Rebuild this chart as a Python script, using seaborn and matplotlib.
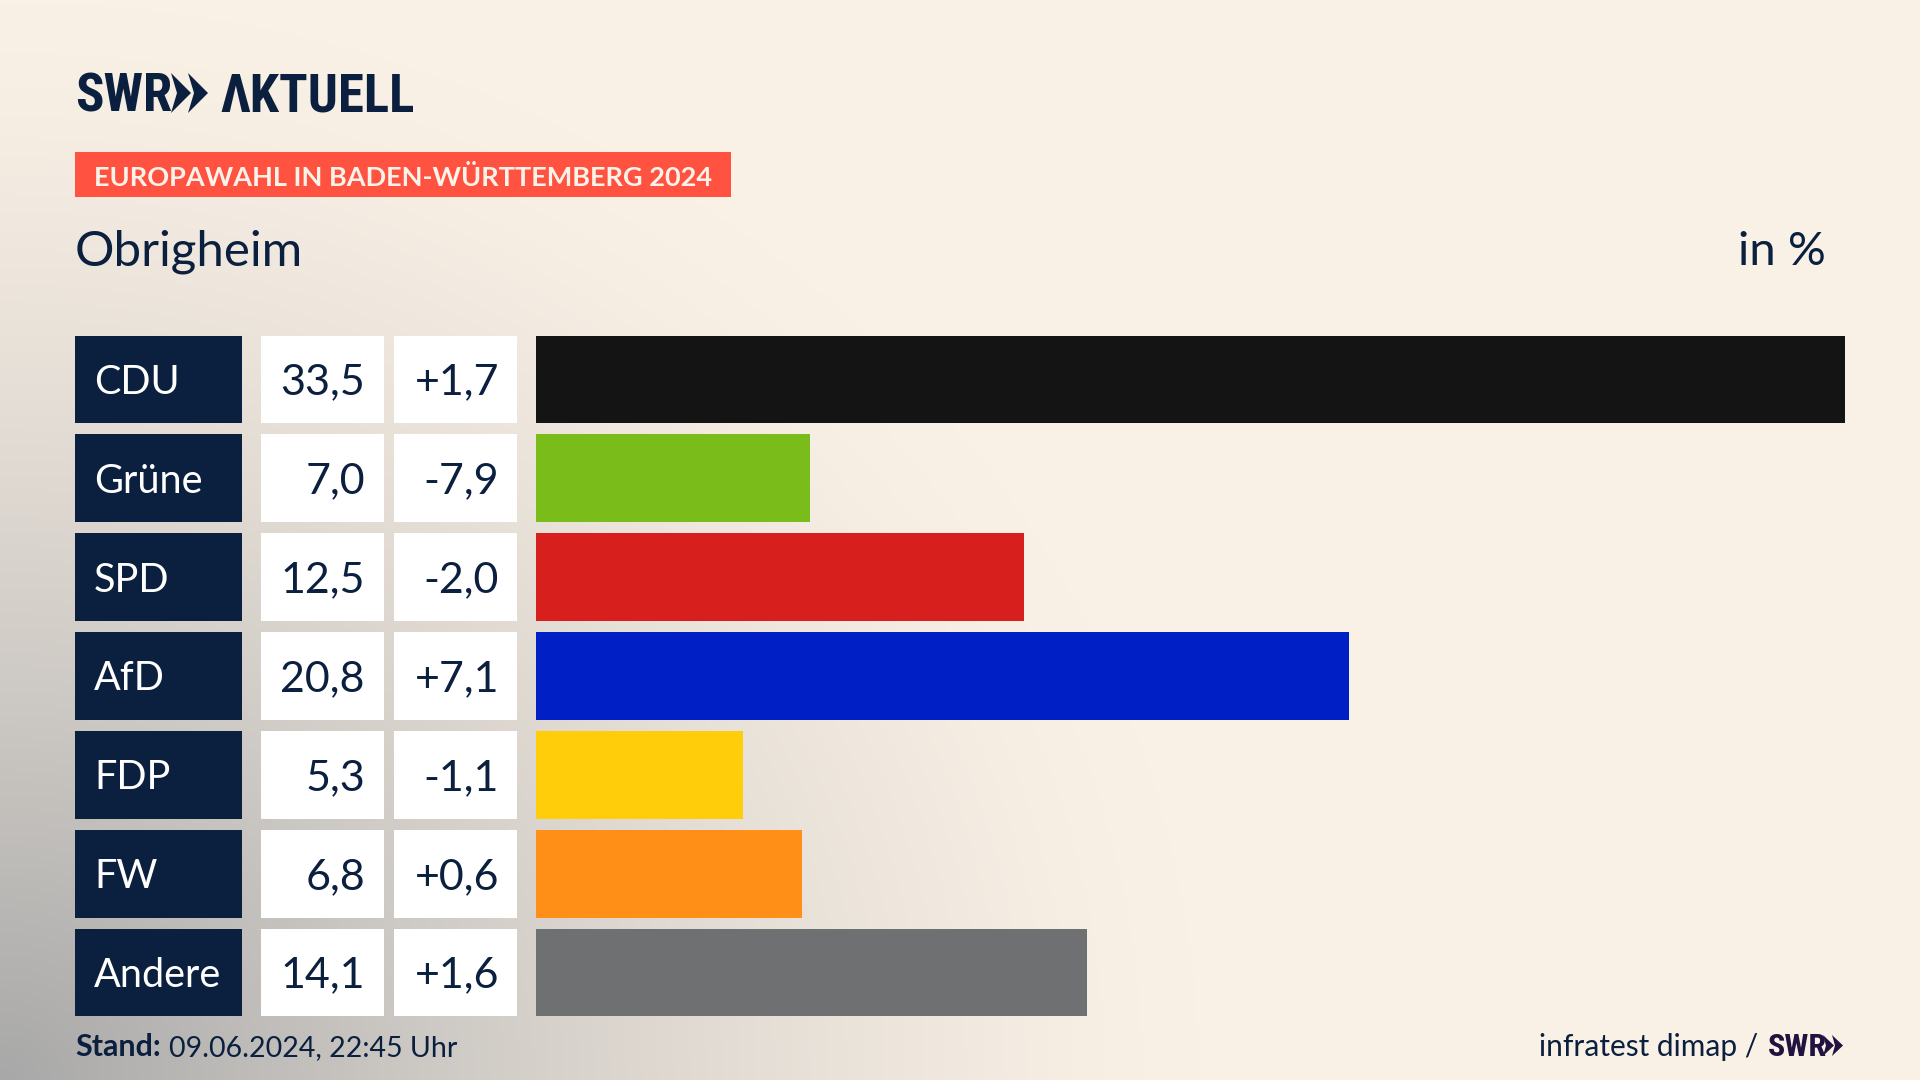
import matplotlib
matplotlib.use('Agg')
import matplotlib.pyplot as plt
from matplotlib.patches import Polygon, Rectangle
import numpy as np
import pandas as pd
import seaborn as sns

parties = ['CDU', 'Grüne', 'SPD', 'AfD', 'FDP', 'FW', 'Andere']
shares = [33.5, 7.0, 12.5, 20.8, 5.3, 6.8, 14.1]
changes = [1.7, -7.9, -2.0, 7.1, -1.1, 0.6, 1.6]
party_colors = ['#141414', '#7ABD1A', '#D71F1D', '#0020C6', '#FFCD0A', '#FF8F16', '#6F7072']

NAVY = '#0B1F3F'
BODY = 'Lato'
COND = ['Roboto Condensed', 'Open Sans Condensed']
W, H = 1920, 1080

sns.set_theme(style='white')
plt.rcParams['font.family'] = [BODY, 'DejaVu Sans']

fig = plt.figure(figsize=(W / 100, H / 100), dpi=100)

# background: cream with a grey glow out of the lower left corner
bg = fig.add_axes([0, 0, 1, 1], zorder=0)
yy, xx = np.mgrid[0:H:270j, 0:W:480j]
dist = np.sqrt((xx / 1200) ** 2 + ((H - yy) / 1080) ** 2)
glow = np.clip(1 - dist, 0, 1) ** 1.35
cream = np.array([250, 241, 230]) / 255
grey = np.array([168, 168, 168]) / 255
bg.imshow(cream + (grey - cream) * glow[..., None], extent=[0, W, H, 0], aspect='auto')
bg.axis('off')

# bars, positioned so each row lands on the table rows
row_top, row_pitch, row_h = 335.5, 98.9, 87.5
pad = (row_pitch - row_h) / 2
table_bottom = row_top + 6 * row_pitch + row_h
ax = fig.add_axes([536 / W, 1 - (table_bottom + pad) / H, (1845 - 536) / W,
                   (table_bottom - row_top + 2 * pad) / H], zorder=1)
df = pd.DataFrame({'party': parties, 'share': shares})
sns.barplot(data=df, x='share', y='party', hue='party', palette=party_colors,
            order=parties, hue_order=parties, dodge=False, legend=False,
            width=row_h / row_pitch, saturation=1, linewidth=0, ax=ax)
ax.set_xlim(0, max(shares))
ax.set_ylim(len(parties) - 0.5, -0.5)
ax.axis('off')
ax.patch.set_alpha(0)

# overlay in pixel coordinates for table cells and texts
ov = fig.add_axes([0, 0, 1, 1], zorder=2)
ov.set_xlim(0, W)
ov.set_ylim(H, 0)
ov.axis('off')
ov.patch.set_alpha(0)

for i, party in enumerate(parties):
    top = row_top + i * row_pitch
    mid = top + row_h / 2 - 0.5
    ov.add_patch(Rectangle((75, top), 167, row_h, color=NAVY, lw=0))
    ov.add_patch(Rectangle((261, top), 123, row_h, color='white', lw=0))
    ov.add_patch(Rectangle((394, top), 123, row_h, color='white', lw=0))
    ov.text(94, mid, party, color='white', fontsize=28.5, ha='left', va='center_baseline')
    ov.text(365, mid, f'{shares[i]:.1f}'.replace('.', ','), color=NAVY, fontsize=31,
            ha='right', va='center_baseline')
    ov.text(499, mid, f'{changes[i]:+.1f}'.replace('.', ','), color=NAVY, fontsize=31,
            ha='right', va='center_baseline')

# logo
ov.text(75, 111, 'SWR', color=NAVY, fontsize=38, fontweight='bold', family=COND, va='baseline')
for x0 in (171, 188):
    ov.add_patch(Polygon([(x0, 73), (x0 + 20, 93), (x0, 113), (x0 + 6, 93)], color=NAVY, lw=0))
ov.text(220, 111, 'ΛKTUELL', color=NAVY, fontsize=38, fontweight='bold', family=COND, va='baseline')

# header
ov.add_patch(Rectangle((75, 152), 656, 45, color='#FF5240', lw=0))
ov.text(94, 175, 'EUROPAWAHL IN BADEN-WÜRTTEMBERG 2024', color='#FBF3E9', fontsize=19.5,
        fontweight='bold', ha='left', va='center_baseline')
ov.text(75, 248, 'Obrigheim', color=NAVY, fontsize=35.5, ha='left', va='center_baseline')
ov.text(1826, 248, 'in %', color=NAVY, fontsize=34, ha='right', va='center_baseline')

# footer
ov.text(75, 1056, 'Stand:', color=NAVY, fontsize=22, fontweight='bold', va='baseline')
ov.text(169, 1056, '09.06.2024, 22:45 Uhr', color=NAVY, fontsize=20.5, va='baseline')
ov.text(1758, 1056, 'infratest dimap /', color=NAVY, fontsize=21.5, ha='right', va='baseline')
ov.text(1768, 1056, 'SWR', color='#21123F', fontsize=23, fontweight='bold', family=COND,
        ha='left', va='baseline')
for x0 in (1823, 1832):
    ov.add_patch(Polygon([(x0, 1035), (x0 + 11, 1045.5), (x0, 1056), (x0 + 3, 1045.5)],
                         color='#21123F', lw=0))

fig.savefig('out.png', dpi=100)
